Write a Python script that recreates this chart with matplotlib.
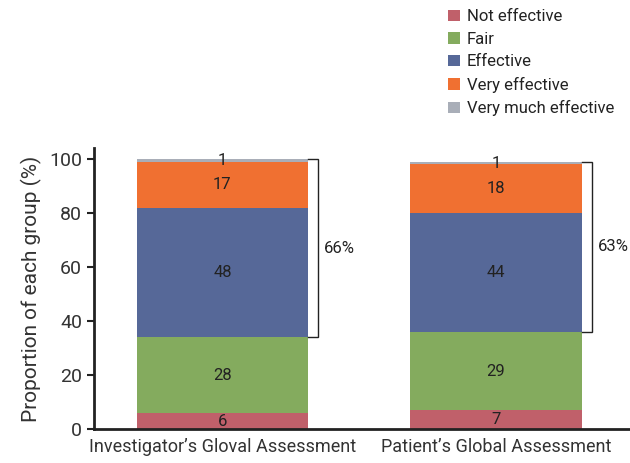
import matplotlib
matplotlib.use("Agg")
import matplotlib.pyplot as plt
from matplotlib.patches import Patch
import numpy as np

plt.rcParams['font.family'] = ['DejaVu Sans Condensed', 'Liberation Sans Narrow', 'Roboto', 'DejaVu Sans']

groups = ["Investigator\u2019s Gloval Assessment", "Patient\u2019s Global Assessment"]
levels = ["Not effective", "Fair", "Effective", "Very effective", "Very much effective"]
colors = ["#C0606A", "#84AB5E", "#566898", "#F07031", "#A9AEB8"]

not_effective = [6, 7]
fair = [28, 29]
effective = [48, 44]
very_effective = [17, 18]
very_much = [1, 1]
bracket_pct = ["66%", "63%"]

series = [not_effective, fair, effective, very_effective, very_much]

fig = plt.figure(figsize=(6.3, 4.63), dpi=100)
ax = fig.add_axes([0.149, 0.0728, 0.851, 0.607])

x = np.arange(len(groups))
w = 0.626
bottom = np.zeros(len(groups))
for vals, col in zip(series, colors):
    vals = np.array(vals, dtype=float)
    ax.bar(x, vals, w, bottom=bottom, color=col, edgecolor='none')
    for xi, b, v in zip(x, bottom, vals):
        ax.text(xi, b + v / 2, str(int(v)), ha='center', va='center',
                fontsize=12, color='#222222')
    bottom = bottom + vals

# bracket over effective + very effective + very much effective
for i in range(len(groups)):
    lo = not_effective[i] + fair[i]
    hi = bottom[i]
    x0 = x[i] + w / 2
    x1 = x0 + 0.037
    ax.plot([x0, x1, x1, x0], [hi, hi, lo, lo], color='#222222', lw=1.0,
            solid_joinstyle='miter', clip_on=False)
    ax.text(x1 + 0.022, (lo + hi) / 2, bracket_pct[i], ha='left', va='center',
            fontsize=12, color='#222222')

ax.set_xlim(-0.47, 1.49)
ax.set_ylim(0, 104)
ax.set_yticks([0, 20, 40, 60, 80, 100])
ax.set_xticks(x)
ax.set_xticklabels(groups, fontsize=13, color='#333333')
ax.tick_params(axis='y', labelsize=14, colors='#333333', length=5, width=1.5, direction='out')
ax.tick_params(axis='y', labelcolor='#333333', color='#222222')
ax.tick_params(axis='x', length=0, pad=6)
ax.set_ylabel("Proportion of each group (%)", fontsize=15, color='#333333', labelpad=5)

for s in ['top', 'right']:
    ax.spines[s].set_visible(False)
ax.spines['left'].set_linewidth(2)
ax.spines['bottom'].set_linewidth(2)
ax.spines['left'].set_color('#222222')
ax.spines['bottom'].set_color('#222222')

handles = [Patch(facecolor=c, edgecolor='none') for c in colors]
fig.legend(handles, levels, loc='upper left', bbox_to_anchor=(0.697, 1.0),
           frameon=False, fontsize=12, handlelength=0.7, handleheight=0.7,
           handletextpad=0.4, labelspacing=0.45, borderaxespad=0.15,
           labelcolor='#222222')

fig.savefig("out.png", dpi=100)
